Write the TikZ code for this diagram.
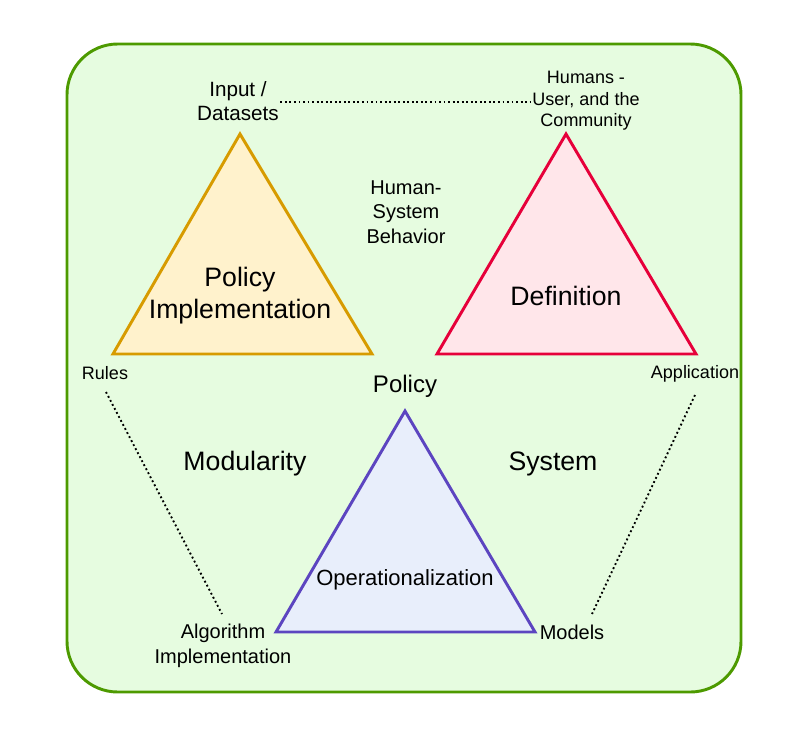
\documentclass[tikz,border=0pt]{standalone}
\usepackage{fontspec}
\setmainfont{Liberation Sans}
\usepackage{xcolor}
\usetikzlibrary{positioning}

\definecolor{frameGreen}{HTML}{4D9A00}
\definecolor{frameFill}{HTML}{E6FCE0}
\definecolor{implStroke}{HTML}{D79B00}
\definecolor{implFill}{HTML}{FFF2CC}
\definecolor{defStroke}{HTML}{E6003A}
\definecolor{defFill}{HTML}{FFE6EA}
\definecolor{opStroke}{HTML}{5C45C0}
\definecolor{opFill}{HTML}{E8EEFB}

\begin{document}
\begin{tikzpicture}[
  x=0.75pt, y=-0.75pt,
  tri/.style={line width=2.2pt, line join=miter},
  big/.style={font=\fontsize{20}{24}\selectfont, align=center},
  mid/.style={font=\fontsize{15}{18.5}\selectfont, align=center},
  small/.style={font=\fontsize{13.5}{16}\selectfont, align=center},
  link/.style={dotted, line width=1.4pt},
]
\useasboundingbox (0,0) rectangle (806,729);

%% --- Frame ---
\draw[frameGreen, fill=frameFill, line width=2.2pt, rounded corners=38pt]
  (67,44) rectangle (741,692);

%% --- Triangles ---
\draw[tri, implStroke, fill=implFill] (240,134) -- (372,354) -- (113,354) -- cycle;
\draw[tri, defStroke, fill=defFill]   (566,134) -- (696,354) -- (437,354) -- cycle;
\draw[tri, opStroke, fill=opFill]     (405,411) -- (535,632) -- (276,632) -- cycle;

%% --- Labels ---
\node[mid, font=\fontsize{15.5}{18.5}\selectfont, inner sep=1pt] (input) at (238,101)
      {Input /\\Datasets};
\node[font=\fontsize{13.5}{16}\selectfont, align=center, inner sep=1pt] (humans) at (586,101)
      {Humans -\\User, and the\\Community};
\node[mid] (behav) at (406,212) {Human-\\System\\Behavior};
\node[big] (impl) at (240,296) {Policy\\Implementation};
\node[big] (defn) at (566,296) {Definition};
\node[small] (rules) at (105,373) {Rules};
\node[small] (appl) at (695,374) {Application};
\node[font=\fontsize{18}{22}\selectfont] (policy) at (405,386) {Policy};
\node[big] (modul) at (245,464) {Modularity};
\node[big] (syst) at (553,464) {System};
\node[font=\fontsize{16.5}{20}\selectfont] (oper) at (405,580) {Operationalization};
\node[mid] (algo) at (223,646) {Algorithm\\Implementation};
\node[mid] (models) at (572,632) {Models};

%% --- Dotted links ---
\coordinate (rulesEnd) at (106,392);
\coordinate (algoEnd)  at (222,614);
\coordinate (applEnd)  at (695,395);
\coordinate (modelEnd) at (592,614);
\draw[link] (input.east |- 0,102) -- (humans.west |- 0,102);
\draw[link] (rulesEnd) -- (algoEnd);
\draw[link] (applEnd) -- (modelEnd);

\end{tikzpicture}
\end{document}
